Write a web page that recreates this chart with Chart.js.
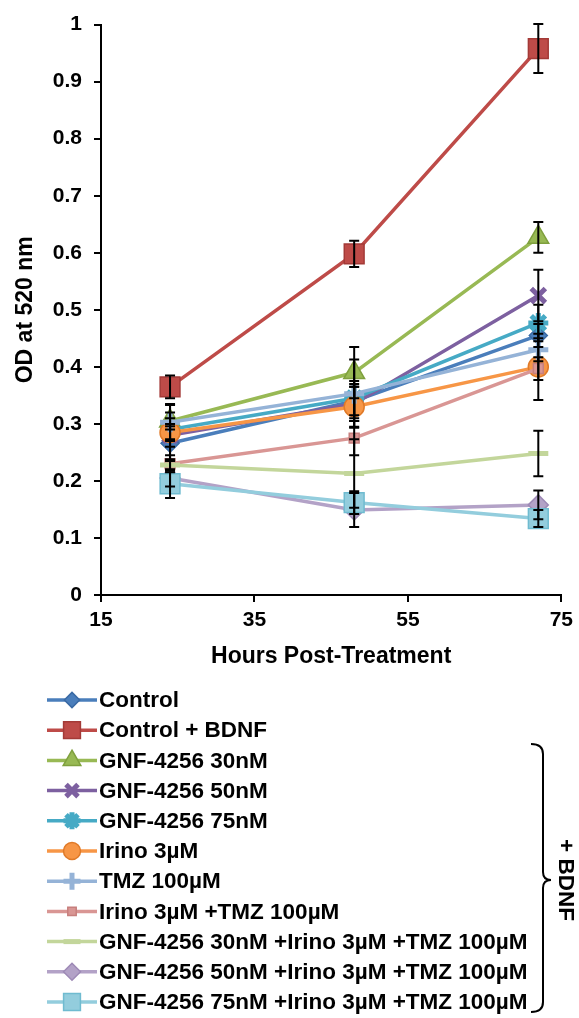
<!DOCTYPE html>
<html>
<head>
<meta charset="utf-8">
<script src="https://cdn.jsdelivr.net/npm/chart.js@4.4.1/dist/chart.umd.min.js"></script>
<style>
  body { margin: 0; background: #fff; }
  #od-chart { display: block; }
</style>
</head>
<body>
<canvas id="od-chart" width="579" height="1018"></canvas>
<script>
// x values (hours) and tick labels
const hours = [24, 48, 72];
const xTicks = [15, 35, 55, 75];

// series names
const seriesNames = [
  'Control',
  'Control + BDNF',
  'GNF-4256 30nM',
  'GNF-4256 50nM',
  'GNF-4256 75nM',
  'Irino 3\u00b5M',
  'TMZ 100\u00b5M',
  'Irino 3\u00b5M +TMZ 100\u00b5M',
  'GNF-4256 30nM +Irino 3\u00b5M +TMZ 100\u00b5M',
  'GNF-4256 50nM +Irino 3\u00b5M +TMZ 100\u00b5M',
  'GNF-4256 75nM +Irino 3\u00b5M +TMZ 100\u00b5M'
];

// OD values
const control     = [0.266, 0.340, 0.455];
const controlBdnf = [0.365, 0.598, 0.958];
const gnf30       = [0.305, 0.390, 0.627];
const gnf50       = [0.280, 0.335, 0.525];
const gnf75       = [0.290, 0.345, 0.477];
const irino       = [0.285, 0.330, 0.400];
const tmz         = [0.303, 0.353, 0.430];
const irinoTmz    = [0.230, 0.275, 0.397];
const gnf30Combo  = [0.228, 0.213, 0.248];
const gnf50Combo  = [0.205, 0.149, 0.158];
const gnf75Combo  = [0.195, 0.162, 0.134];

// error bar half-lengths
const controlErr     = [0.030, 0.030, 0.020];
const controlBdnfErr = [0.020, 0.023, 0.043];
const gnf30Err       = [0.015, 0.045, 0.027];
const gnf50Err       = [0.020, 0.030, 0.045];
const gnf75Err       = [0.020, 0.030, 0.032];
const irinoErr       = [0.050, 0.035, 0.058];
const tmzErr         = [0.030, 0.060, 0.020];
const irinoTmzErr    = [0.015, 0.030, 0.020];
const gnf30ComboErr  = [0.010, 0.060, 0.040];
const gnf50ComboErr  = [0.015, 0.030, 0.025];
const gnf75ComboErr  = [0.025, 0.020, 0.015];

const allValues = [control, controlBdnf, gnf30, gnf50, gnf75, irino, tmz, irinoTmz, gnf30Combo, gnf50Combo, gnf75Combo];
const allErrors = [controlErr, controlBdnfErr, gnf30Err, gnf50Err, gnf75Err, irinoErr, tmzErr, irinoTmzErr, gnf30ComboErr, gnf50ComboErr, gnf75ComboErr];

// looks per series
const lineColors = ['#4A7EBB', '#BE4B48', '#98B954', '#7D60A0', '#46AAC5', '#F79646', '#95B3D7', '#D99694', '#C3D69B', '#B3A2C7', '#93CDDD'];
const markerEdge = ['#3A6AA5', '#A33A37', '#7FA03E', '#654A88', '#2F92AE', '#E07A28', '#7E9DC4', '#C77F7D', '#AFC583', '#9E8AB6', '#6FBBD0'];
const markers = ['rectRot', 'rect', 'triangle', 'crossRot', 'star', 'circle', 'cross', 'rect', 'line', 'rectRot', 'rect'];
const markerSize = [9, 14, 12, 10, 10, 10, 10, 7, 10, 10, 14];

const font = 'Arial, "Liberation Sans", sans-serif';

function isStroked(style){
  return style === 'crossRot' || style === 'star' || style === 'cross' || style === 'line';
}

const datasets = seriesNames.map(function(name, i){
  const crossy = isStroked(markers[i]);
  return {
    label: name,
    data: hours.map(function(h, j){ return {x: h, y: allValues[i][j]}; }),
    borderColor: lineColors[i],
    backgroundColor: lineColors[i],
    borderWidth: 3.5,
    pointStyle: markers[i],
    pointRadius: markerSize[i],
    pointBorderColor: crossy ? lineColors[i] : markerEdge[i],
    pointBackgroundColor: lineColors[i],
    pointBorderWidth: crossy ? 5 : 1.5,
    tension: 0,
    order: -i
  };
});

//error bars
const errorBars = {
  id: 'errorBars',
  afterDatasetsDraw(chart){
    const ctx = chart.ctx;
    const xs = chart.scales.x, ys = chart.scales.y;
    ctx.save();
    ctx.strokeStyle = '#000';
    ctx.lineWidth = 2;
    allValues.forEach(function(vals, i){
      vals.forEach(function(v, j){
        const e = allErrors[i][j];
        const px = xs.getPixelForValue(hours[j]);
        const top = ys.getPixelForValue(v + e);
        const bot = ys.getPixelForValue(v - e);
        ctx.beginPath();
        ctx.moveTo(px, top); ctx.lineTo(px, bot);
        ctx.moveTo(px - 5, top); ctx.lineTo(px + 5, top);
        ctx.moveTo(px - 5, bot); ctx.lineTo(px + 5, bot);
        ctx.stroke();
      });
    });
    ctx.restore();
  }
};

//legend + brace under the plot
const legendBelow = {
  id: 'legendBelow',
  afterDraw(chart){
    const ctx = chart.ctx;
    ctx.save();
    ctx.font = 'bold 22.5px ' + font;
    ctx.textBaseline = 'middle';
    ctx.textAlign = 'left';
    seriesNames.forEach(function(name, i){
      const y = 700 + i * 30.2;
      ctx.strokeStyle = lineColors[i];
      ctx.lineWidth = 3.5;
      ctx.beginPath();
      ctx.moveTo(47, y); ctx.lineTo(97, y);
      ctx.stroke();
      const crossy = isStroked(markers[i]);
      ctx.fillStyle = lineColors[i];
      ctx.strokeStyle = crossy ? lineColors[i] : markerEdge[i];
      ctx.lineWidth = crossy ? 5 : 1.5;
      Chart.helpers.drawPoint(ctx, {pointStyle: markers[i], radius: markerSize[i] * 0.85, borderWidth: ctx.lineWidth, rotation: 0}, 72, y);
      ctx.fillStyle = '#000';
      ctx.fillText(name, 99, y + 1);
    });

    // brace for the BDNF group
    const bx = 543, top = 744, bottom = 1012, mid = 880;
    ctx.strokeStyle = '#000';
    ctx.lineWidth = 2;
    ctx.beginPath();
    ctx.moveTo(bx - 12, top);
    ctx.quadraticCurveTo(bx, top, bx, top + 10);
    ctx.lineTo(bx, mid - 8);
    ctx.quadraticCurveTo(bx, mid, bx + 8, mid);
    ctx.quadraticCurveTo(bx, mid, bx, mid + 8);
    ctx.lineTo(bx, bottom - 10);
    ctx.quadraticCurveTo(bx, bottom, bx - 12, bottom);
    ctx.stroke();

    ctx.translate(565, mid);
    ctx.rotate(Math.PI / 2);
    ctx.textAlign = 'center';
    ctx.fillText('+ BDNF', 0, 0);
    ctx.restore();
  }
};

new Chart(document.getElementById('od-chart'), {
  type: 'line',
  data: { datasets: datasets },
  plugins: [errorBars, legendBelow],
  options: {
    responsive: false,
    animation: false,
    layout: { padding: { left: 0, right: 16, top: 19, bottom: 348 } },
    plugins: {
      legend: { display: false },
      tooltip: { enabled: false }
    },
    scales: {
      x: {
        type: 'linear',
        min: 15,
        max: 75,
        afterBuildTicks: function(axis){ axis.ticks = xTicks.map(function(v){ return {value: v}; }); },
        afterFit: function(axis){ axis.height = 75; },
        grid: { display: true, drawOnChartArea: false, drawTicks: true, tickLength: 7, color: '#000', lineWidth: 2 },
        border: { color: '#000', width: 2 },
        ticks: { color: '#000', padding: 6, font: { family: font, size: 21, weight: 'bold' } },
        title: { display: true, text: 'Hours Post-Treatment', color: '#000', padding: 0, font: { family: font, size: 23, weight: 'bold' } }
      },
      y: {
        min: 0,
        max: 1,
        ticks: {
          stepSize: 0.1, color: '#000', padding: 12,
          font: { family: font, size: 21, weight: 'bold' },
          callback: function(v){ return String(Math.round(v * 10) / 10); }
        },
        afterFit: function(axis){ axis.width = 101; },
        grid: { display: true, drawOnChartArea: false, drawTicks: true, tickLength: 7, color: '#000', lineWidth: 2 },
        border: { color: '#000', width: 2 },
        title: { display: true, text: 'OD at 520 nm', color: '#000', padding: { top: 12, bottom: 0 }, font: { family: font, size: 23, weight: 'bold' } }
      }
    }
  }
});
</script>
</body>
</html>
